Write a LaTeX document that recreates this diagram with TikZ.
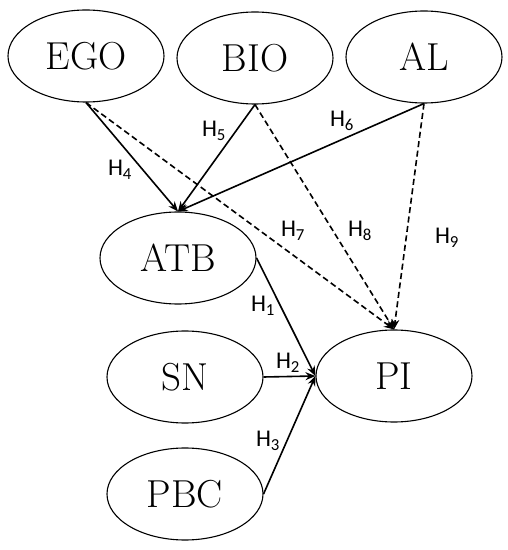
\documentclass[tikz,border=0pt]{standalone}
\usepackage{fontspec}
\newfontfamily\hypfont{Carlito}
\usetikzlibrary{shapes.geometric, arrows.meta}

\begin{document}
\begin{tikzpicture}[x=1pt, y=1pt,
    construct/.style={draw, ellipse, line width=1.1pt, minimum width=156pt,
      minimum height=92pt, inner sep=0pt, font=\fontsize{39}{42}\selectfont},
    hyp/.style={font=\hypfont\fontsize{24}{26}\selectfont},
    path/.style={line width=1.6pt, -{Stealth[length=10pt, width=8pt]}},
    dpath/.style={path, dash pattern=on 6pt off 3.5pt}]
    \useasboundingbox (0,0) rectangle (508,550);
    % constructs
    \node[construct] (ego) at (86,494) {EGO};
    \node[construct] (bio) at (255,492) {BIO};
    \node[construct] (al)  at (424,493) {AL};
    \node[construct] (atb) at (178,292) {ATB};
    \node[construct] (sn)  at (185,173) {SN};
    \node[construct] (pbc) at (185,56)  {PBC};
    \node[construct] (pi)  at (394,174) {PI};
    % direct paths
    \draw[path] (ego.south) -- (atb.north);
    \draw[path] (bio.south) -- (atb.north);
    \draw[path] (al.south) -- (atb.north);
    \draw[path] (atb.east) -- (pi.west);
    \draw[path] (sn.east) -- (pi.west);
    \draw[path] (pbc.east) -- (pi.west);
    % indirect paths
    \draw[dpath] (ego.south) -- (pi.north);
    \draw[dpath] (bio.south) -- (pi.north);
    \draw[dpath] (al.south) -- (pi.north);
    % hypotheses
    \node[hyp] (h1) at (263,244) {H\textsubscript{1}};
    \node[hyp] (h2) at (288,187) {H\textsubscript{2}};
    \node[hyp] (h3) at (268,109) {H\textsubscript{3}};
    \node[hyp] (h4) at (120,380) {H\textsubscript{4}};
    \node[hyp] (h5) at (214,419) {H\textsubscript{5}};
    \node[hyp] (h6) at (342,429) {H\textsubscript{6}};
    \node[hyp] (h7) at (293,319) {H\textsubscript{7}};
    \node[hyp] (h8) at (360,319) {H\textsubscript{8}};
    \node[hyp] (h9) at (447,312) {H\textsubscript{9}};
\end{tikzpicture}
\end{document}
